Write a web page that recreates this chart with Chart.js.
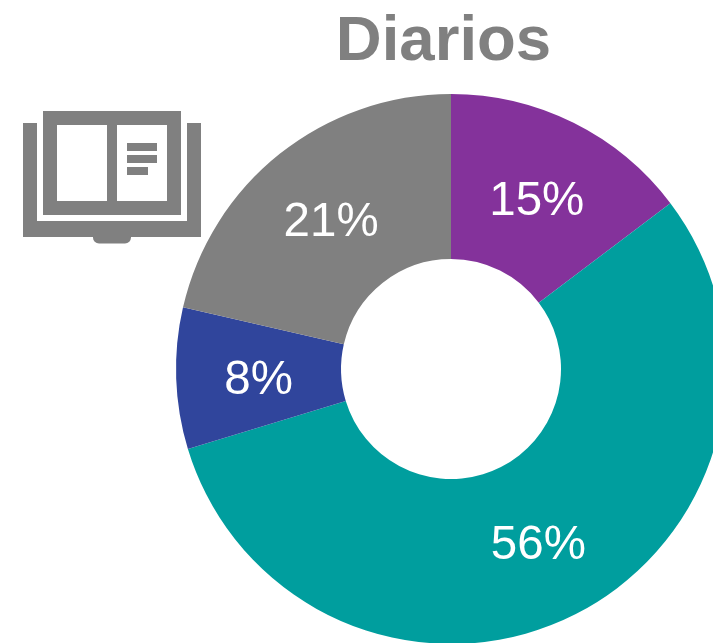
<!DOCTYPE html>
<html><head><meta charset="utf-8">
<style>html,body{margin:0;padding:0;background:#fff;overflow:hidden}#w{position:relative;width:713px;height:643px;overflow:hidden}canvas{display:block}</style>
<script src="https://cdn.jsdelivr.net/npm/chart.js@4"></script></head>
<body><div id="w"><canvas id="c" width="726" height="644" style="width:726px;height:644px"></canvas></div>
<script>
const categories=["Morado","Verde azulado","Azul","Gris"];
const values=[14.7,55.6,8.3,21.4];
const labels=["15%","56%","8%","21%"];
const colors=["#84329B","#009E9E","#30459C","#808080"];
const titleText="Diarios";
const sliceLabels={id:'sliceLabels',afterDatasetsDraw(ch){
 const c=ch.ctx,m=ch.getDatasetMeta(0);
 c.save();c.fillStyle='#fff';c.font='47.5px "Liberation Sans"';c.textAlign='center';c.textBaseline='middle';
 m.data.forEach((a,i)=>{const t=a.tooltipPosition();c.fillText(labels[i],t.x,t.y+5);});
 c.restore();}};
const bookIcon={id:'bookIcon',afterDraw(ch){
 const c=ch.ctx;c.save();c.fillStyle='#808080';
 c.fillRect(23,123,178,114);
 c.fillStyle='#fff';c.fillRect(37,123,150,98);
 c.fillStyle='#808080';c.fillRect(43,111,138,104);
 c.fillStyle='#fff';c.fillRect(57,125,50,76);c.fillRect(117,125,50,76);
 c.fillStyle='#808080';c.fillRect(127,143,30,8);c.fillRect(127,155,30,8);c.fillRect(127,167,21,8);
 c.beginPath();c.roundRect(93,237,38,6.5,[0,0,6,6]);c.fill();
 c.restore();}};
new Chart(document.getElementById('c'),{type:'doughnut',
 data:{labels:categories,datasets:[{data:values,backgroundColor:colors,borderWidth:0}]},
 options:{responsive:false,animation:false,cutout:'40%',rotation:0,
  layout:{padding:{left:176,right:0,top:94,bottom:0}},
  plugins:{legend:{display:false},tooltip:{enabled:false},title:{display:false}}},
 plugins:[sliceLabels,bookIcon,{id:'t',afterDraw(ch){const c=ch.ctx;c.save();c.fillStyle='#808080';c.font='bold 63.5px "Liberation Sans"';c.textAlign='center';c.textBaseline='middle';c.fillText(titleText,443.5,42.5);c.restore();}}]
});
</script></body></html>
